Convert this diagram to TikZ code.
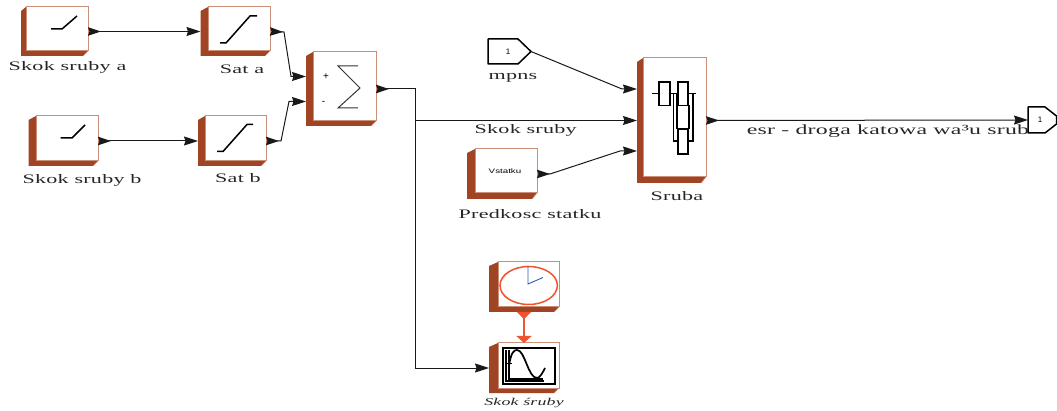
\documentclass[tikz,border=0pt]{standalone}
\usepackage{fontspec}
\setmainfont[FakeStretch=1.7,LetterSpace=2]{Liberation Serif}
\newfontfamily\tinysans{Liberation Sans}
\newfontfamily\tinywide[FakeStretch=1.5]{Liberation Sans}
\usetikzlibrary{arrows.meta}
\definecolor{brk}{HTML}{A04424}
\definecolor{brl}{HTML}{C98F78}
\definecolor{clk}{HTML}{F0532D}
\definecolor{hnd}{HTML}{2F5FB5}
\newcommand{\blk}[7]{% name, shadow left, top, face left, face right, face bottom, shadow bottom
  \fill[brk] (#4,#3) -- (#2,#3+4) -- (#2,#7) -- (#5-5,#7) -- (#5,#6) -- (#4,#6) -- cycle;
  \draw[brl,fill=white,line width=1pt] (#4,#3) rectangle (#5,#6);
  \draw[brl,line width=.6pt] (#5,#6) -- (#5-5,#7);
  \node[inner sep=0pt,outer sep=0pt,minimum width=#5 pt-#2 pt,minimum height=#7 pt-#3 pt] (#1) at ({(#2+#5)/2},{(#3+#7)/2}) {};
}
\tikzset{
  x=1pt,y=-1pt,
  wire/.style={line width=1pt,black!90,
    {Stealth[reversed,length=13pt,width=8.5pt,inset=1.5pt]}-{Stealth[length=14pt,width=9pt,inset=1.5pt]}},
  iwire/.style={line width=1pt,black!90,-{Stealth[length=14pt,width=9pt,inset=1.5pt]}},
  stem/.style={line width=1pt,black!90,{Stealth[reversed,length=13pt,width=8.5pt,inset=1.5pt]}-},
  lab/.style={inner sep=0pt,font=\fontsize{13}{15}\selectfont,text=black!85},
  icon/.style={line width=1.5pt,line join=round},
  portb/.style={draw=black,line width=1.5pt,fill=white,line join=round,inner sep=0pt},
  redw/.style={clk,line width=1.2pt,{Triangle[reversed,length=7pt,width=14pt]}-{Triangle[length=7pt,width=15pt]}},
}
\begin{document}
\begin{tikzpicture}
\useasboundingbox (0,0) rectangle (1057,411);
\blk{skoka}{21}{7}{26}{88}{51}{56}
\blk{sata}{200.5}{7}{208}{270}{51}{56}
\blk{sum}{306}{52}{313}{376}{121}{126}
\blk{skokb}{28.5}{116}{36}{98}{161}{166}
\blk{satb}{198}{116}{205}{266}{161}{166}
\blk{sruba}{637}{58}{643}{706}{177}{183}
\blk{pred}{467}{149}{475}{537}{193}{199}
\blk{clock}{489}{262}{498}{559}{307}{312}
\blk{scope}{489}{343}{498}{559}{388}{393}
% ports
\node[inner sep=0pt,outer sep=0pt,minimum width=43pt,minimum height=25pt] (mpns) at (509.5,51.5) {};
\draw[portb] (488,39) -- (518,39) -- (531,51.5) -- (518,64) -- (488,64) -- cycle;
\node[font=\tinysans\fontsize{8}{9}\selectfont,inner sep=0pt] at (508,52) {1};
\node[inner sep=0pt,outer sep=0pt,minimum width=29pt,minimum height=26pt] (esr) at (1042.5,120) {};
% icons
\draw[icon] (51,29) -- (62,29) -- (77,16);
\draw[icon] (220,43) -- (226,43) -- (250,16) -- (257,16);
\draw[icon] (60.5,138) -- (72,138) -- (85,125);
\draw[icon] (217,151.5) -- (223,151.5) -- (247,124.5) -- (253,124.5);
\node[inner sep=0pt,font=\tinysans\fontsize{10}{11}\selectfont] at (326,77) {+};
\node[inner sep=0pt,font=\tinysans\fontsize{10}{11}\selectfont] at (323.5,103) {-};
\draw[line width=1pt,black!80] (358,66) -- (338,66) -- (360,88) -- (338,108) -- (358,108);
% sruba icon
\draw[line width=1.1pt] (652,93.3) -- (659,93.3) (670,93.3) -- (678,93.3) (688,93.3) -- (696,93.3);
\draw[line width=1.1pt] (673.5,93.3) -- (673.5,141) -- (678,141) (677,93.3) -- (677,129);
\draw[line width=1.1pt] (689,105) -- (689,129) (693,93.3) -- (693,141) -- (688,141);
\draw[line width=1.1pt,fill=white] (659,82) rectangle (670,105.7);
\draw[line width=1.1pt,fill=white] (678,82) rectangle (688,105.7);
\draw[line width=1.1pt,fill=white] (678,129) rectangle (688,154);
% clock icon
\draw[clk,line width=1.5pt] (528.7,285.5) ellipse [x radius=28.7,y radius=19];
\draw[hnd,line width=.9pt] (528,266) -- (528,284) -- (543,277.5);
% scope icon
\draw[line width=1.6pt] (503,348) rectangle (555,384);
\draw[line width=1.3pt] (506,350) -- (506,381) -- (544,381) (509,350) -- (509,379) -- (543,379);
\draw[line width=1pt] (505,363) -- (512,363);
\draw[line width=1.7pt] (509,366) .. controls (511,352) and (514,350) .. (517,350) .. controls (525,350) and (528,378) .. (537,378) .. controls (540,378) and (543,372) .. (545,368);
% labels
\node[lab] at (67.5,67.7) {Skok sruby a};
\node[lab] at (242,69) {Sat a};
\node[lab] at (82,180.7) {Skok sruby b};
\node[lab] at (238,178) {Sat b};
\node[lab] at (513,77.7) {mpns};
\node[lab] at (525.7,130) {Skok sruby};
\node[lab] at (530,213.7) {Predkosc statku};
\node[lab] at (677,195.7) {Sruba};
\node[inner sep=0pt,font=\tinywide\fontsize{6.5}{7}\selectfont] at (505,171) {Vstatku};
\node[lab,font=\itshape\fontsize{10.5}{12}\selectfont] at (524,403) {Skok śruby};
% connectors
\draw[wire] (skoka.east) -- (sata.west);
\draw[wire] (skokb.east) -- (satb.west);
\coordinate (sumin1) at ([yshift=12.5pt]sum.west);
\coordinate (sumin2) at ([yshift=-12.5pt]sum.west);
\coordinate (bra) at (415,89);
\coordinate (brb) at (415,120.5);
\draw[wire] (sata.east) -- (284,32) -- (291,76.5) -- (sumin1);
\draw[wire] (satb.east) -- (281,141) -- (289,101.5) -- (sumin2);
\draw[stem] (sum.east) -- (bra) -- (brb);
\draw[iwire] (brb) -- (415,368) -- (scope.west);
\draw[iwire] (brb) -- (sruba.west);
\coordinate (srin1) at ([yshift=31.5pt]sruba.west);
\coordinate (srin3) at ([yshift=-30.5pt]sruba.west);
\draw[iwire] (mpns.east) -- (622,89) -- (srin1);
\draw[wire] (pred.east) -- (550,174) -- (620,151) -- (srin3);
\draw[wire] (sruba.east) -- (esr.west);
\draw[redw] (clock.south) -- (scope.north);
% out port over connector
\draw[portb] (1028,107) -- (1045,107) -- (1056.5,116) -- (1056.5,124) -- (1045,133) -- (1028,133) -- cycle;
\node[font=\tinysans\fontsize{8}{9}\selectfont,inner sep=0pt] at (1040,120) {1};
\node[lab,font=\fontsize{14}{16}\selectfont] at (888,130.7) {esr - droga katowa wa³u srub};
\end{tikzpicture}
\end{document}
